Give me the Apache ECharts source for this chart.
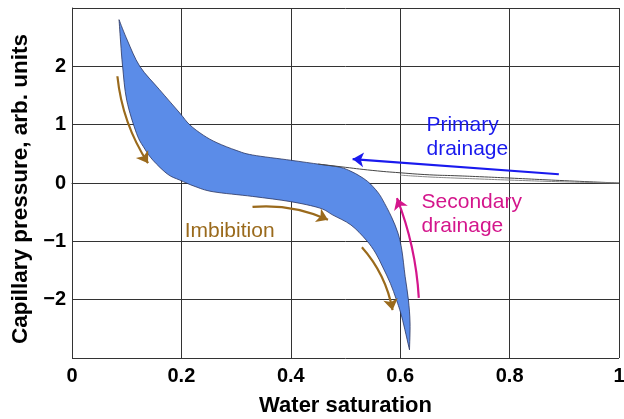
<!DOCTYPE html>
<html>
<head>
<meta charset="utf-8">
<script src="https://cdn.jsdelivr.net/npm/echarts@6/dist/echarts.min.js"></script>
<style>
  html, body { margin: 0; padding: 0; background: #fff; }
  #chart { width: 624px; height: 419px; }
</style>
</head>
<body>
<div id="chart"></div>
<script>
// hysteresis band: drainage edge (upper/right) and imbibition edge (lower/left)
var drainX = [0.086, 0.101, 0.124, 0.16, 0.197, 0.215, 0.24, 0.265, 0.3, 0.33, 0.4, 0.453, 0.49, 0.51, 0.526, 0.54, 0.55, 0.56, 0.568, 0.584, 0.596, 0.603, 0.609, 0.615, 0.618, 0.617];
var drainY = [2.80, 2.45, 2.0, 1.6, 1.2, 1.0, 0.82, 0.69, 0.56, 0.48, 0.39, 0.32, 0.27, 0.2, 0.12, 0.03, -0.06, -0.17, -0.29, -0.58, -0.86, -1.15, -1.6, -2.0, -2.4, -2.86];
var imbX = [0.086, 0.089, 0.0925, 0.1, 0.118, 0.132, 0.148, 0.175, 0.197, 0.225, 0.258, 0.33, 0.4, 0.453, 0.477, 0.51, 0.538, 0.555, 0.568, 0.582, 0.593, 0.603, 0.617];
var imbY = [2.80, 2.4, 2.0, 1.42, 0.85, 0.6, 0.39, 0.15, 0.05, -0.06, -0.15, -0.23, -0.32, -0.43, -0.55, -0.72, -0.98, -1.2, -1.44, -1.72, -2.0, -2.3, -2.86];
// primary drainage: thin sliver towards Sw = 1
var primUpX = [0.45, 0.49, 0.55, 0.6, 0.654, 0.7, 0.745, 0.8, 0.9, 1.0];
var primUpY = [0.325, 0.28, 0.215, 0.175, 0.14, 0.125, 0.108, 0.085, 0.04, 0.0];
var primLoX = [0.6, 0.65, 0.7, 0.745, 0.8, 0.9, 1.0];
var primLoY = [0.135, 0.105, 0.085, 0.069, 0.05, 0.02, 0.0];

var arrows = [
  { from: [0.083, 1.83], to: [0.139, 0.34], curve: -0.12, color: '#9a6a1c' },
  { from: [0.33, -0.41], to: [0.468, -0.63], curve: 0.13, color: '#9a6a1c' },
  { from: [0.53, -1.1], to: [0.586, -2.18], curve: 0.14, color: '#9a6a1c' },
  { from: [0.634, -1.97], to: [0.594, -0.26], curve: -0.08, color: '#d4168c' },
  { from: [0.89, 0.15], to: [0.513, 0.41], curve: 0, color: '#1a1aee' }
];
var notes = [
  { text: 'Primary\ndrainage', at: [0.648, 1.2], color: '#1a1aee' },
  { text: 'Secondary\ndrainage', at: [0.639, -0.12], color: '#d4168c' },
  { text: 'Imbibition', at: [0.206, -0.62], color: '#9a6a1c' }
];

var FONT = "'Liberation Sans', Arial, sans-serif";

function pairs(xs, ys) {
  return xs.map(function (x, i) { return [x, ys[i]]; });
}

// smooth path through pixel points (Catmull-Rom as cubic beziers), no move-to
function smoothSegs(p) {
  var s = '';
  for (var i = 0; i < p.length - 1; i++) {
    var p0 = p[Math.max(i - 1, 0)], p1 = p[i], p2 = p[i + 1], p3 = p[Math.min(i + 2, p.length - 1)];
    var c1 = [p1[0] + (p2[0] - p0[0]) / 6, p1[1] + (p2[1] - p0[1]) / 6];
    var c2 = [p2[0] - (p3[0] - p1[0]) / 6, p2[1] - (p3[1] - p1[1]) / 6];
    s += ' C' + c1[0] + ' ' + c1[1] + ' ' + c2[0] + ' ' + c2[1] + ' ' + p2[0] + ' ' + p2[1];
  }
  return s;
}

var myChart = echarts.init(document.getElementById('chart'));

var series = [
  {
    type: 'custom',
    clip: false,
    data: [[0, 0]],
    encode: { x: 0, y: 1 },
    renderItem: function (params, api) {
      var up = [], lo = [];
      for (var i = 0; i < drainX.length; i++) up.push(api.coord([drainX[i], drainY[i]]));
      for (var j = imbX.length - 1; j >= 0; j--) lo.push(api.coord([imbX[j], imbY[j]]));
      var d = 'M' + up[0][0] + ' ' + up[0][1] + smoothSegs(up) + smoothSegs(lo) + ' Z';
      return {
        type: 'path',
        shape: { pathData: d },
        style: { fill: '#5b8ce8', stroke: '#2b3560', lineWidth: 0.8 }
      };
    },
    z: 3
  },
  {
    type: 'line', data: pairs(primUpX, primUpY), smooth: true, symbol: 'none',
    lineStyle: { color: '#444', width: 1 }, z: 3
  },
  {
    type: 'line', data: pairs(primLoX, primLoY), smooth: true, symbol: 'none',
    lineStyle: { color: '#888', width: 1 }, z: 3
  }
];

arrows.forEach(function (a) {
  series.push({
    type: 'lines',
    coordinateSystem: 'cartesian2d',
    symbol: ['none', 'arrow'],
    symbolSize: 11,
    lineStyle: { color: a.color, width: 2.2, curveness: a.curve, opacity: 1 },
    data: [{ coords: [a.from, a.to] }],
    z: 4
  });
});

var option = {
  animation: false,
  grid: { left: 72, right: 5, top: 8, bottom: 61, outerBoundsMode: 'none' },
  xAxis: {
    type: 'value', min: 0, max: 1, interval: 0.2,
    name: 'Water saturation', nameLocation: 'middle', nameGap: 37,
    nameTextStyle: { fontFamily: FONT, fontWeight: 'bold', fontSize: 22, color: '#000' },
    axisLine: { show: true, lineStyle: { color: '#333', width: 1 } },
    axisTick: { show: false },
    axisLabel: { margin: 8, fontFamily: FONT, fontWeight: 'bold', fontSize: 20, color: '#000' },
    splitLine: { show: true, lineStyle: { color: '#333', width: 1 } }
  },
  yAxis: {
    type: 'value', min: -3, max: 3, interval: 1,
    name: 'Capillary pressure, arb. units', nameLocation: 'middle', nameGap: 36, nameRotate: 90,
    nameTextStyle: {
      fontFamily: FONT, fontWeight: 'bold', fontSize: 22.5, color: '#000',
      padding: [0, 12, 0, 0]
    },
    axisLine: { show: true, lineStyle: { color: '#333', width: 1 } },
    axisTick: { show: false },
    axisLabel: {
      margin: 6, fontFamily: FONT, fontWeight: 'bold', fontSize: 20, color: '#000',
      formatter: function (v) {
        if (Math.abs(v) > 2.5) return '';
        return v < 0 ? '\u2212' + Math.abs(v) : String(v);
      }
    },
    splitLine: { show: true, lineStyle: { color: '#333', width: 1 } }
  },
  series: series
};
myChart.setOption(option);

// annotations anchored at data coordinates
var graphics = notes.map(function (n) {
  var p = myChart.convertToPixel({ gridIndex: 0 }, n.at);
  return {
    type: 'text', x: p[0], y: p[1], z: 10,
    style: {
      text: n.text, fill: n.color, font: '21px ' + FONT,
      lineHeight: 24, verticalAlign: 'top', align: 'left'
    }
  };
});
myChart.setOption({ graphic: graphics });
</script>
</body>
</html>
